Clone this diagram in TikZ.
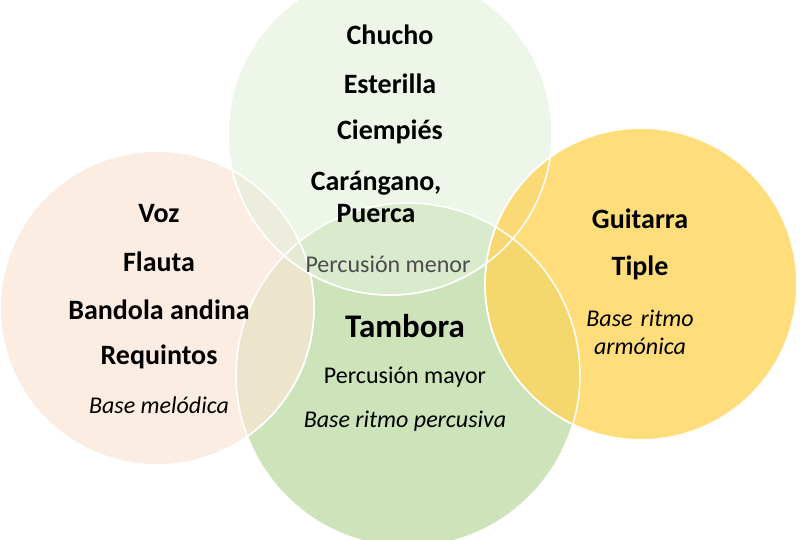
\documentclass[tikz,border=0pt]{standalone}
\usepackage{fontspec}
\setmainfont{Carlito}
\definecolor{lowgreen}{RGB}{200,224,178}
\definecolor{topgreen}{RGB}{226,239,218}
\definecolor{peach}{RGB}{251,229,214}
\definecolor{gold}{RGB}{255,212,90}
\begin{document}
\begin{tikzpicture}[x=1pt,y=-1pt,
  ring/.style={draw=white, line width=1.5pt, fill opacity=.75},
  instr/.style={font=\fontsize{28}{32}\selectfont\bfseries, align=center},
  remark/.style={font=\fontsize{24}{28}\selectfont\itshape, align=center}]
\useasboundingbox (0,0) rectangle (800,539);
\clip (0,0) rectangle (800,539);
\fill[ring, fill=lowgreen, fill opacity=.9] (408,375) circle (172);
\fill[ring, fill=peach, fill opacity=.7] (157,308) circle (157);
\fill[ring, fill=topgreen, fill opacity=.6] (390,133) circle (162);
\fill[ring, fill=gold, fill opacity=.8] (641,284) circle (156);
\draw[white, line width=1.5pt] (408,375) circle (172) (157,308) circle (157)
  (390,133) circle (162) (641,284) circle (156);
\node[instr] (c1) at (390,35) {Chucho};
\node[instr] (c2) at (390,84) {Esterilla};
\node[instr] (c3) at (390,132) {Ciempiés};
\node[instr, font=\fontsize{28}{32}\selectfont\bfseries] (c4) at (376,197) {Carángano,\\Puerca};
\node[font=\fontsize{24}{28}\selectfont, text=black!70] (pm) at (388,264) {Percusión menor};
\node[instr] (v1) at (159,214) {Voz};
\node[instr] (v2) at (159,262) {Flauta};
\node[instr] (v3) at (159,310) {Bandola andina};
\node[instr] (v4) at (159,357) {Requintos};
\node[remark] (v5) at (159,405) {Base melódica};
\node[font=\fontsize{33}{38}\selectfont\bfseries] (t1) at (405,326) {Tambora};
\node[font=\fontsize{24}{28}\selectfont] (t2) at (405,377) {Percusión mayor};
\node[remark] (t3) at (405,421) {Base ritmo percusiva};
\node[instr] (g1) at (640,219) {Guitarra};
\node[instr] (g2) at (640,268) {Tiple};
\node[remark, text width=140pt] (g3) at (640,332) {Base ritmo\\armónica};
\end{tikzpicture}
\end{document}
